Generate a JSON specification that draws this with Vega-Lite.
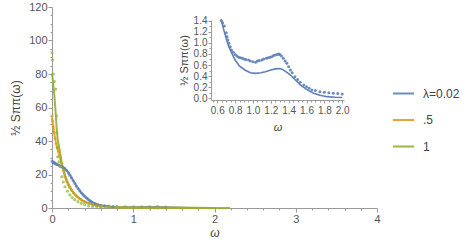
{
  "$schema": "https://vega.github.io/schema/vega-lite/v6.json",
  "width": 325,
  "height": 201,
  "autosize": "none",
  "padding": {"left": 52, "top": 7, "right": 92, "bottom": 35},
  "config": {
    "view": {"stroke": null},
    "font": "Liberation Sans",
    "axis": {
      "grid": false,
      "domainColor": "#9a9a9a",
      "tickColor": "#9a9a9a",
      "labelColor": "#555555",
      "titleColor": "#444444",
      "titleFontWeight": "normal",
      "labelFontSize": 11,
      "titleFontSize": 12
    },
    "legend": {
      "labelFontSize": 12,
      "labelColor": "#444444",
      "symbolType": "stroke",
      "symbolSize": 441,
      "symbolStrokeWidth": 2,
      "rowPadding": 8.5,
      "labelOffset": 8
    }
  },
  "datasets": {
    "mainFit": [
      {"w": 0, "s": 27, "series": "λ=0.02"}, {"w": 0.05, "s": 26.3, "series": "λ=0.02"}, {"w": 0.1, "s": 25.2, "series": "λ=0.02"}, {"w": 0.15, "s": 23.9, "series": "λ=0.02"}, {"w": 0.2, "s": 21.3, "series": "λ=0.02"}, {"w": 0.25, "s": 17.4, "series": "λ=0.02"}, {"w": 0.3, "s": 13.3, "series": "λ=0.02"}, {"w": 0.35, "s": 9.8, "series": "λ=0.02"}, {"w": 0.4, "s": 7.1, "series": "λ=0.02"}, {"w": 0.45, "s": 5.0, "series": "λ=0.02"}, {"w": 0.5, "s": 3.4, "series": "λ=0.02"}, {"w": 0.55, "s": 2.3, "series": "λ=0.02"}, {"w": 0.6, "s": 1.6, "series": "λ=0.02"}, {"w": 0.7, "s": 0.9, "series": "λ=0.02"}, {"w": 0.8, "s": 0.6, "series": "λ=0.02"}, {"w": 1.0, "s": 0.45, "series": "λ=0.02"}, {"w": 1.3, "s": 0.53, "series": "λ=0.02"}, {"w": 1.5, "s": 0.3, "series": "λ=0.02"}, {"w": 1.7, "s": 0.07, "series": "λ=0.02"}, {"w": 2.0, "s": 0.02, "series": "λ=0.02"},
      {"w": 0, "s": 54, "series": ".5"}, {"w": 0.02, "s": 47, "series": ".5"}, {"w": 0.04, "s": 41, "series": ".5"}, {"w": 0.06, "s": 36.5, "series": ".5"}, {"w": 0.08, "s": 33, "series": ".5"}, {"w": 0.1, "s": 29.5, "series": ".5"}, {"w": 0.13, "s": 24.5, "series": ".5"}, {"w": 0.16, "s": 19.5, "series": ".5"}, {"w": 0.2, "s": 14.5, "series": ".5"}, {"w": 0.25, "s": 10, "series": ".5"}, {"w": 0.3, "s": 7.1, "series": ".5"}, {"w": 0.35, "s": 5.1, "series": ".5"}, {"w": 0.4, "s": 3.7, "series": ".5"}, {"w": 0.5, "s": 2, "series": ".5"}, {"w": 0.6, "s": 1.1, "series": ".5"}, {"w": 0.8, "s": 0.4, "series": ".5"}, {"w": 1.0, "s": 0.2, "series": ".5"}, {"w": 1.5, "s": 0.08, "series": ".5"}, {"w": 2.0, "s": 0.03, "series": ".5"},
      {"w": 0, "s": 80.4, "series": "1"}, {"w": 0.015, "s": 74, "series": "1"}, {"w": 0.03, "s": 67, "series": "1"}, {"w": 0.04, "s": 60, "series": "1"}, {"w": 0.05, "s": 53, "series": "1"}, {"w": 0.06, "s": 46, "series": "1"}, {"w": 0.07, "s": 41, "series": "1"}, {"w": 0.085, "s": 37, "series": "1"}, {"w": 0.1, "s": 33, "series": "1"}, {"w": 0.12, "s": 27, "series": "1"}, {"w": 0.14, "s": 22.5, "series": "1"}, {"w": 0.16, "s": 18.7, "series": "1"}, {"w": 0.2, "s": 13.8, "series": "1"}, {"w": 0.24, "s": 10.5, "series": "1"}, {"w": 0.3, "s": 7, "series": "1"}, {"w": 0.37, "s": 4.6, "series": "1"}, {"w": 0.45, "s": 2.8, "series": "1"}, {"w": 0.53, "s": 1.8, "series": "1"}, {"w": 0.6, "s": 1.2, "series": "1"}, {"w": 0.7, "s": 0.7, "series": "1"}, {"w": 0.8, "s": 0.45, "series": "1"}, {"w": 1.0, "s": 0.25, "series": "1"}, {"w": 1.3, "s": 0.12, "series": "1"}, {"w": 1.6, "s": 0.08, "series": "1"}, {"w": 2.0, "s": 0.05, "series": "1"}, {"w": 2.19, "s": 0.04, "series": "1"}
    ],
    "mainPts": [
      {"w": 0.0, "s": 28, "series": "λ=0.02"}, {"w": 0.01, "s": 27.5, "series": "λ=0.02"}, {"w": 0.02, "s": 27.3, "series": "λ=0.02"}, {"w": 0.03, "s": 27, "series": "λ=0.02"}, {"w": 0.04, "s": 26.6, "series": "λ=0.02"}, {"w": 0.05, "s": 26.2, "series": "λ=0.02"}, {"w": 0.06, "s": 26, "series": "λ=0.02"}, {"w": 0.08, "s": 25.6, "series": "λ=0.02"}, {"w": 0.1, "s": 25, "series": "λ=0.02"}, {"w": 0.12, "s": 24.6, "series": "λ=0.02"}, {"w": 0.14, "s": 24, "series": "λ=0.02"}, {"w": 0.16, "s": 23.5, "series": "λ=0.02"}, {"w": 0.18, "s": 22.4, "series": "λ=0.02"}, {"w": 0.2, "s": 21, "series": "λ=0.02"}, {"w": 0.22, "s": 19.6, "series": "λ=0.02"}, {"w": 0.24, "s": 18, "series": "λ=0.02"}, {"w": 0.26, "s": 16.3, "series": "λ=0.02"}, {"w": 0.28, "s": 14.7, "series": "λ=0.02"}, {"w": 0.3, "s": 13, "series": "λ=0.02"}, {"w": 0.32, "s": 11.6, "series": "λ=0.02"}, {"w": 0.34, "s": 10.3, "series": "λ=0.02"}, {"w": 0.36, "s": 9.1, "series": "λ=0.02"}, {"w": 0.38, "s": 8, "series": "λ=0.02"}, {"w": 0.4, "s": 7, "series": "λ=0.02"}, {"w": 0.42, "s": 6.1, "series": "λ=0.02"}, {"w": 0.44, "s": 5.3, "series": "λ=0.02"}, {"w": 0.46, "s": 4.5, "series": "λ=0.02"}, {"w": 0.48, "s": 3.9, "series": "λ=0.02"}, {"w": 0.5, "s": 3.3, "series": "λ=0.02"}, {"w": 0.53, "s": 2.6, "series": "λ=0.02"}, {"w": 0.56, "s": 2.1, "series": "λ=0.02"}, {"w": 0.6, "s": 1.6, "series": "λ=0.02"}, {"w": 0.65, "s": 1.3, "series": "λ=0.02"}, {"w": 0.7, "s": 1.1, "series": "λ=0.02"}, {"w": 0.75, "s": 0.9, "series": "λ=0.02"}, {"w": 0.8, "s": 0.8, "series": "λ=0.02"}, {"w": 0.9, "s": 0.72, "series": "λ=0.02"}, {"w": 1.0, "s": 0.67, "series": "λ=0.02"}, {"w": 1.1, "s": 0.69, "series": "λ=0.02"}, {"w": 1.2, "s": 0.74, "series": "λ=0.02"}, {"w": 1.3, "s": 0.78, "series": "λ=0.02"}, {"w": 1.4, "s": 0.55, "series": "λ=0.02"},
      {"w": 0.0, "s": 55, "series": ".5"}, {"w": 0.008, "s": 52, "series": ".5"}, {"w": 0.016, "s": 48, "series": ".5"}, {"w": 0.025, "s": 45, "series": ".5"}, {"w": 0.037, "s": 41.6, "series": ".5"}, {"w": 0.05, "s": 38.5, "series": ".5"}, {"w": 0.065, "s": 36, "series": ".5"}, {"w": 0.08, "s": 34, "series": ".5"}, {"w": 0.1, "s": 30.5, "series": ".5"}, {"w": 0.12, "s": 26.7, "series": ".5"}, {"w": 0.14, "s": 22.5, "series": ".5"}, {"w": 0.16, "s": 18.7, "series": ".5"}, {"w": 0.18, "s": 16, "series": ".5"}, {"w": 0.2, "s": 14, "series": ".5"}, {"w": 0.22, "s": 12.2, "series": ".5"}, {"w": 0.24, "s": 10.7, "series": ".5"}, {"w": 0.27, "s": 8.8, "series": ".5"}, {"w": 0.3, "s": 7.3, "series": ".5"}, {"w": 0.33, "s": 6, "series": ".5"}, {"w": 0.36, "s": 5, "series": ".5"}, {"w": 0.4, "s": 3.8, "series": ".5"}, {"w": 0.45, "s": 2.8, "series": ".5"}, {"w": 0.5, "s": 2, "series": ".5"}, {"w": 0.55, "s": 1.5, "series": ".5"}, {"w": 0.6, "s": 1.1, "series": ".5"}, {"w": 0.7, "s": 0.6, "series": ".5"}, {"w": 0.8, "s": 0.4, "series": ".5"}, {"w": 0.9, "s": 0.3, "series": ".5"}, {"w": 1.0, "s": 0.2, "series": ".5"}, {"w": 1.1, "s": 0.15, "series": ".5"}, {"w": 1.2, "s": 0.12, "series": ".5"}, {"w": 1.3, "s": 0.1, "series": ".5"},
      {"w": 0.0, "s": 92.7, "series": "1"}, {"w": 0.006, "s": 88.4, "series": "1"}, {"w": 0.016, "s": 80, "series": "1"}, {"w": 0.03, "s": 75.5, "series": "1"}, {"w": 0.045, "s": 71, "series": "1"}, {"w": 0.055, "s": 55, "series": "1"}, {"w": 0.06, "s": 45, "series": "1"}, {"w": 0.065, "s": 36, "series": "1"}, {"w": 0.07, "s": 30.6, "series": "1"}, {"w": 0.085, "s": 27.5, "series": "1"}, {"w": 0.1, "s": 24.7, "series": "1"}, {"w": 0.12, "s": 18.7, "series": "1"}, {"w": 0.14, "s": 15.5, "series": "1"}, {"w": 0.16, "s": 12.7, "series": "1"}, {"w": 0.19, "s": 10, "series": "1"}, {"w": 0.22, "s": 7.8, "series": "1"}, {"w": 0.25, "s": 6.2, "series": "1"}, {"w": 0.28, "s": 5, "series": "1"}, {"w": 0.32, "s": 3.8, "series": "1"}, {"w": 0.36, "s": 2.8, "series": "1"}, {"w": 0.4, "s": 2.1, "series": "1"}, {"w": 0.45, "s": 1.2, "series": "1"}, {"w": 0.5, "s": 0.9, "series": "1"}, {"w": 0.55, "s": 0.7, "series": "1"}, {"w": 0.6, "s": 0.5, "series": "1"}, {"w": 0.7, "s": 0.35, "series": "1"}, {"w": 0.8, "s": 0.25, "series": "1"}, {"w": 0.9, "s": 0.2, "series": "1"}, {"w": 1.0, "s": 0.15, "series": "1"}, {"w": 1.1, "s": 0.12, "series": "1"}, {"w": 1.2, "s": 0.1, "series": "1"}, {"w": 1.3, "s": 0.08, "series": "1"}, {"w": 1.4, "s": 0.07, "series": "1"}
    ],
    "insetPts": [
      {"w": 0.645, "s": 1.4}, {"w": 0.66, "s": 1.36}, {"w": 0.68, "s": 1.3}, {"w": 0.7, "s": 1.18}, {"w": 0.71, "s": 1.11}, {"w": 0.72, "s": 1.05}, {"w": 0.73, "s": 0.99}, {"w": 0.745, "s": 0.93}, {"w": 0.76, "s": 0.87}, {"w": 0.78, "s": 0.83}, {"w": 0.8, "s": 0.79}, {"w": 0.82, "s": 0.76}, {"w": 0.84, "s": 0.74}, {"w": 0.86, "s": 0.73}, {"w": 0.88, "s": 0.72}, {"w": 0.9, "s": 0.71}, {"w": 0.92, "s": 0.7}, {"w": 0.95, "s": 0.69}, {"w": 0.97, "s": 0.67}, {"w": 1.0, "s": 0.66}, {"w": 1.03, "s": 0.65}, {"w": 1.05, "s": 0.67}, {"w": 1.07, "s": 0.68}, {"w": 1.1, "s": 0.69}, {"w": 1.12, "s": 0.71}, {"w": 1.15, "s": 0.72}, {"w": 1.17, "s": 0.73}, {"w": 1.19, "s": 0.74}, {"w": 1.21, "s": 0.75}, {"w": 1.23, "s": 0.77}, {"w": 1.25, "s": 0.78}, {"w": 1.27, "s": 0.79}, {"w": 1.29, "s": 0.8}, {"w": 1.3, "s": 0.79}, {"w": 1.32, "s": 0.76}, {"w": 1.34, "s": 0.72}, {"w": 1.36, "s": 0.67}, {"w": 1.38, "s": 0.63}, {"w": 1.4, "s": 0.57}, {"w": 1.42, "s": 0.51}, {"w": 1.44, "s": 0.46}, {"w": 1.47, "s": 0.39}, {"w": 1.5, "s": 0.34}, {"w": 1.53, "s": 0.29}, {"w": 1.57, "s": 0.24}, {"w": 1.6, "s": 0.21}, {"w": 1.63, "s": 0.18}, {"w": 1.66, "s": 0.15}, {"w": 1.7, "s": 0.14}, {"w": 1.75, "s": 0.12}, {"w": 1.8, "s": 0.11}, {"w": 1.85, "s": 0.1}, {"w": 1.9, "s": 0.09}, {"w": 1.95, "s": 0.085}, {"w": 2.0, "s": 0.08}
    ],
    "insetFit": [
      {"w": 0.645, "s": 1.41}, {"w": 0.67, "s": 1.25}, {"w": 0.7, "s": 1.08}, {"w": 0.73, "s": 0.93}, {"w": 0.76, "s": 0.82}, {"w": 0.8, "s": 0.69}, {"w": 0.85, "s": 0.58}, {"w": 0.91, "s": 0.51}, {"w": 0.97, "s": 0.46}, {"w": 1.03, "s": 0.45}, {"w": 1.09, "s": 0.46}, {"w": 1.14, "s": 0.48}, {"w": 1.2, "s": 0.51}, {"w": 1.25, "s": 0.53}, {"w": 1.3, "s": 0.535}, {"w": 1.33, "s": 0.52}, {"w": 1.37, "s": 0.48}, {"w": 1.42, "s": 0.42}, {"w": 1.47, "s": 0.34}, {"w": 1.53, "s": 0.24}, {"w": 1.6, "s": 0.16}, {"w": 1.68, "s": 0.09}, {"w": 1.75, "s": 0.055}, {"w": 1.83, "s": 0.03}, {"w": 1.92, "s": 0.02}, {"w": 2.0, "s": 0.015}
    ]
  },
  "layer": [
    {
      "encoding": {
        "x": {
          "field": "w", "type": "quantitative",
          "scale": {"domain": [0, 4], "nice": false},
          "axis": {
            "title": "ω", "titleFontStyle": "italic", "titlePadding": 3,
            "values": [0, 0.2, 0.4, 0.6, 0.8, 1, 1.2, 1.4, 1.6, 1.8, 2, 2.2, 2.4, 2.6, 2.8, 3, 3.2, 3.4, 3.6, 3.8, 4],
            "labelExpr": "datum.value == round(datum.value) ? format(datum.value, 'd') : ''",
            "tickSize": {"condition": {"test": "datum.value == round(datum.value)", "value": 4}, "value": 2},
            "labelPadding": 1,
            "labelFlush": false, "labelOverlap": false
          }
        },
        "y": {
          "field": "s", "type": "quantitative",
          "scale": {"domain": [0, 120], "nice": false},
          "axis": {
            "title": "½ Sππ(ω)", "titlePadding": 6,
            "values": [0, 5, 10, 15, 20, 25, 30, 35, 40, 45, 50, 55, 60, 65, 70, 75, 80, 85, 90, 95, 100, 105, 110, 115, 120],
            "labelExpr": "datum.value % 20 == 0 ? format(datum.value, 'd') : ''",
            "tickSize": {"condition": {"test": "datum.value % 20 == 0", "value": 4}, "value": 2},
            "labelPadding": 1,
            "labelFlush": false, "labelOverlap": false
          }
        },
        "color": {
          "field": "series", "type": "nominal",
          "scale": {"domain": ["λ=0.02", ".5", "1"], "range": ["#5E81B5", "#E19C24", "#8FB032"]},
          "legend": {"title": null, "orient": "none", "legendX": 340, "legendY": 75}
        }
      },
      "layer": [
        {
          "data": {"name": "mainFit"},
          "mark": {"type": "line", "strokeWidth": 2, "opacity": 0.9}
        },
        {
          "data": {"name": "mainPts"},
          "mark": {"type": "circle", "size": 10, "opacity": 0.7}
        }
      ]
    },
    {
      "encoding": {
        "x": {
          "field": "w", "type": "quantitative",
          "scale": {"domain": [0.53, 2.02], "range": [159, 292], "nice": false, "zero": false},
          "axis": {
            "orient": "bottom", "offset": -108,
            "title": "ω", "titleFontStyle": "italic", "titlePadding": 6, "titleFontSize": 11,
            "values": [0.55, 0.6, 0.65, 0.7, 0.75, 0.8, 0.85, 0.9, 0.95, 1, 1.05, 1.1, 1.15, 1.2, 1.25, 1.3, 1.35, 1.4, 1.45, 1.5, 1.55, 1.6, 1.65, 1.7, 1.75, 1.8, 1.85, 1.9, 1.95, 2],
            "labelExpr": "round(datum.value * 100) % 20 == 0 ? format(datum.value, '.1f') : ''",
            "tickSize": {"condition": {"test": "round(datum.value * 100) % 20 == 0", "value": 3}, "value": 2},
            "labelPadding": 2, "labelFontSize": 10,
            "labelFlush": false, "labelOverlap": false
          }
        },
        "y": {
          "field": "s", "type": "quantitative",
          "scale": {"domain": [-0.03, 1.41], "range": [93, 13], "nice": false, "zero": false},
          "axis": {
            "orient": "left", "offset": -159,
            "title": "½ Sππ(ω)", "titlePadding": 4, "titleFontSize": 11,
            "values": [0, 0.1, 0.2, 0.3, 0.4, 0.5, 0.6, 0.7, 0.8, 0.9, 1, 1.1, 1.2, 1.3, 1.4],
            "labelExpr": "round(datum.value * 10) % 2 == 0 ? format(datum.value, '.1f') : ''",
            "tickSize": {"condition": {"test": "round(datum.value * 10) % 2 == 0", "value": 3}, "value": 2},
            "labelPadding": 1, "labelFontSize": 10,
            "labelFlush": false, "labelOverlap": false
          }
        }
      },
      "layer": [
        {
          "data": {"name": "insetFit"},
          "mark": {"type": "line", "strokeWidth": 1.6, "color": "#5E81B5"}
        },
        {
          "data": {"name": "insetPts"},
          "mark": {"type": "circle", "size": 9, "opacity": 0.9, "color": "#5E81B5"}
        }
      ]
    }
  ],
  "resolve": {"scale": {"x": "independent", "y": "independent"}}
}
